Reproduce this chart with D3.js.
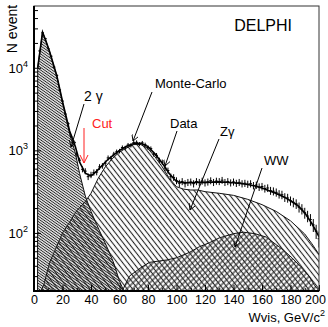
<!DOCTYPE html>
<html>
<head>
<meta charset="utf-8">
<script src="https://cdn.jsdelivr.net/npm/d3@7"></script>
<style>
  body { margin: 0; background: #fff; }
  text { font-family: "Liberation Sans", Arial, sans-serif; }
</style>
</head>
<body>
<div id="chart"></div>
<script>
// ### data (Wvis in GeV, number of events)
const ggX = [2.5, 2.6, 6, 8, 11, 16, 20, 25, 29, 32, 36, 40, 44, 48, 52, 56, 60, 63];
const ggN = [20, 10000, 27000, 21900, 15500, 7900, 3800, 1580, 930, 525, 280, 182, 126, 89, 63, 43, 26, 20];

const zgX = [5, 7, 11, 15, 20, 25, 30, 36, 40, 45, 50, 55, 60, 65, 70, 75, 80, 85, 90, 95,
             100, 105, 110, 115, 120, 130, 140, 150, 160, 170, 180, 190, 195, 200];
const zgN = [20, 24, 44, 63, 100, 135, 186, 240, 302, 457, 630, 794, 955, 1070, 1175, 1175, 1050, 830, 630, 457,
             363, 339, 331, 331, 316, 302, 285, 255, 220, 182, 140, 97, 74, 55];

const wwX = [62, 67, 75, 81, 93, 100, 109, 116, 123, 130, 140, 147, 155, 163, 170, 175, 181, 187, 193, 197, 200];
const wwN = [20, 30, 38, 44, 47, 50, 58, 68, 76, 87, 98, 102, 98, 89, 72, 62, 50, 39, 30, 23, 20];

const mcX = [2.6, 6, 8, 11, 16, 20, 25, 29, 32, 36, 40, 44, 48, 52, 56, 60, 65, 70, 75, 80, 85, 90, 95,
             100, 105, 110, 115, 120, 125, 130, 135, 140, 145, 150, 155, 160, 165, 170, 175, 180, 185, 190, 195, 200];
const mcN = [10000, 27000, 22000, 15600, 8000, 3900, 1720, 1110, 720, 530, 490, 560, 660, 780, 880, 1000, 1120, 1210, 1220, 1110, 900, 700, 520,
             420, 405, 405, 410, 410, 412, 415, 410, 405, 398, 385, 370, 350, 325, 300, 275, 245, 215, 175, 130, 90];

const dataX = d3.range(4, 201, 2);
const dataN = [16000, 26500, 22500, 17000, 13800, 10200, 8100, 5400, 3950, 2750, 2100, 1480, 1260, 900, 760, 590, 560,
               480, 505, 540, 545, 630, 650, 700, 810, 800, 900, 960, 980, 1080, 1070, 1160, 1150, 1240, 1250, 1190,
               1230, 1170, 1080, 1050, 900, 870, 760, 720, 610, 570, 480, 470, 430, 400, 420, 395, 410, 415, 395, 420,
               410, 425, 405, 415, 430, 410, 425, 420, 435, 410, 420, 405, 415, 400, 410, 395, 400, 390, 395, 375, 380,
               360, 365, 345, 350, 325, 320, 310, 295, 290, 270, 265, 245, 235, 225, 205, 195, 175, 160, 145, 125, 105, 85];

const xTicks = d3.range(0, 201, 20);
const yMajor = [100, 1000, 10000];
const yExp = ["2", "3", "4"];

// ### layout
const W = 328, H = 327;
const m = { left: 34, top: 6, right: 9, bottom: 36 };
const x = d3.scaleLinear().domain([0, 200]).range([m.left, W - m.right]);
const y = d3.scaleLog().domain([19.8, 56000]).range([H - m.bottom, m.top]);
const y0 = H - m.bottom;

const svg = d3.select("#chart").append("svg")
  .attr("width", W).attr("height", H)
  .style("display", "block");

const defs = svg.append("defs");
defs.append("clipPath").attr("id", "plot")
  .append("rect")
  .attr("x", m.left).attr("y", m.top)
  .attr("width", W - m.left - m.right).attr("height", y0 - m.top);

function hatch(id, angle, gap, w) {
  defs.append("pattern")
    .attr("id", id)
    .attr("patternUnits", "userSpaceOnUse")
    .attr("width", gap).attr("height", gap)
    .attr("patternTransform", `rotate(${angle})`)
    .append("line")
    .attr("x1", -1).attr("x2", gap + 1)
    .attr("y1", gap / 2).attr("y2", gap / 2)
    .attr("stroke", "#222").attr("stroke-width", w);
}
hatch("hgg", 35, 2.2, 1);
hatch("hzg", 52, 4.2, 1.1);
hatch("hww", -45, 4, 1.1);

defs.append("marker")
  .attr("id", "vee")
  .attr("viewBox", "0 0 8 8")
  .attr("refX", 7).attr("refY", 4)
  .attr("markerWidth", 7).attr("markerHeight", 7)
  .attr("markerUnits", "userSpaceOnUse")
  .attr("orient", "auto")
  .append("path")
  .attr("d", "M0,0L7,4L0,8")
  .attr("fill", "none").attr("stroke", "#000").attr("stroke-width", 1);

const plot = svg.append("g").attr("clip-path", "url(#plot)");

const area = d3.area()
  .x(d => x(d[0]))
  .y0(y0)
  .y1(d => y(d[1]));
const line = d3.line()
  .x(d => x(d[0]))
  .y(d => y(d[1]));

// overlaid (not stacked) simulated components
[[zgX, zgN, "hzg"], [wwX, wwN, "hww"], [ggX, ggN, "hgg"]].forEach(([xs, ns, pat]) => {
  const pts = d3.zip(xs, ns);
  plot.append("path")
    .datum(pts)
    .attr("d", area)
    .attr("fill", `url(#${pat})`);
  plot.append("path")
    .datum(pts)
    .attr("d", line)
    .attr("fill", "none")
    .attr("stroke", "#111")
    .attr("stroke-width", 1);
});

// total Monte-Carlo
plot.append("path")
  .datum(d3.zip(mcX, mcN))
  .attr("d", line)
  .attr("fill", "none")
  .attr("stroke", "#000")
  .attr("stroke-width", 1.6);

// data points with error bars
const pts = plot.append("g").attr("stroke", "#000").attr("stroke-width", 1);
pts.selectAll(".h")
  .data(d3.zip(dataX, dataN))
  .join("line")
  .attr("x1", d => x(d[0] - 1)).attr("x2", d => x(d[0] + 1))
  .attr("y1", d => y(d[1])).attr("y2", d => y(d[1]));
pts.selectAll(".v")
  .data(d3.zip(dataX, dataN))
  .join("line")
  .attr("x1", d => x(d[0])).attr("x2", d => x(d[0]))
  .attr("y1", d => y(d[1] + 2 * Math.sqrt(d[1])))
  .attr("y2", d => y(d[1] - 2 * Math.sqrt(d[1])));

// ### axes
const minor = [];
[10, 100, 1000, 10000].forEach(b => d3.range(2, 10).forEach(k => {
  const v = b * k;
  if (v >= 20 && v <= 56000) minor.push(v);
}));

const gy = svg.append("g").attr("transform", `translate(${m.left},0)`);
gy.call(d3.axisLeft(y).tickValues(minor).tickSizeInner(-4).tickSizeOuter(0).tickFormat(""));
gy.call(g => g.select(".domain").remove());
const gy2 = svg.append("g").attr("transform", `translate(${m.left},0)`);
gy2.call(d3.axisLeft(y).tickValues(yMajor).tickSizeInner(-7).tickSizeOuter(0).tickFormat(""));
gy2.call(g => g.select(".domain").remove());

const yl = svg.append("g").selectAll("text")
  .data(yMajor)
  .join("text")
  .attr("x", m.left - 6)
  .attr("y", d => y(d) + 5)
  .attr("text-anchor", "end")
  .attr("font-size", 13);
yl.append("tspan").text("10");
yl.append("tspan").attr("dy", -6).attr("font-size", 9).text((d, i) => yExp[i]);

const gx = svg.append("g").attr("transform", `translate(0,${y0})`);
gx.call(d3.axisBottom(x).tickValues(d3.range(10, 200, 20)).tickSizeInner(-3).tickSizeOuter(0).tickFormat(""));
gx.call(g => g.select(".domain").remove());
const gx2 = svg.append("g").attr("transform", `translate(0,${y0})`);
gx2.call(d3.axisBottom(x).tickValues(xTicks).tickSizeInner(-6).tickSizeOuter(0).tickPadding(4));
gx2.call(g => g.select(".domain").remove());
gx2.selectAll("text")
  .attr("font-size", 12.5)
  .attr("font-family", "Liberation Sans, Arial, sans-serif")
  .attr("fill", "#000")
  .attr("dx", d => d === 200 ? -4 : 0);

// frame
svg.append("rect")
  .attr("x", m.left).attr("y", m.top)
  .attr("width", W - m.left - m.right).attr("height", y0 - m.top)
  .attr("fill", "none").attr("stroke", "#333").attr("stroke-width", 1);
svg.append("path")
  .attr("d", `M${m.left},${m.top}V${y0}H${W - m.right}`)
  .attr("fill", "none").attr("stroke", "#000").attr("stroke-width", 2);

// ### titles and annotations
svg.append("text")
  .attr("transform", `translate(17,29) rotate(-90)`)
  .attr("text-anchor", "middle")
  .attr("font-size", 14)
  .text("N event");

const xt = svg.append("text")
  .attr("x", 325).attr("y", 322)
  .attr("text-anchor", "end")
  .attr("font-size", 13);
xt.append("tspan").text("Wvis, GeV/c");
xt.append("tspan").attr("dy", -6).attr("font-size", 9).text("2");

svg.append("text")
  .attr("x", 292).attr("y", 31)
  .attr("text-anchor", "end")
  .attr("font-size", 16)
  .text("DELPHI");

const notes = [
  { t: "2 γ", tx: 84, ty: 101, x1: 84, y1: 104, x2: 71, y2: 147, fs: 14 },
  { t: "Monte-Carlo", tx: 155, ty: 88, x1: 152, y1: 92, x2: 133, y2: 141, fs: 13 },
  { t: "Data", tx: 170, ty: 128, x1: 177, y1: 131, x2: 165, y2: 166, fs: 13 },
  { t: "Zγ", tx: 220, ty: 136, x1: 219, y1: 139, x2: 190, y2: 210, fs: 13 },
  { t: "WW", tx: 264, ty: 165, x1: 262, y1: 168, x2: 235, y2: 247, fs: 13 }
];
const ann = svg.append("g");
ann.selectAll("line")
  .data(notes)
  .join("line")
  .attr("x1", d => d.x1).attr("y1", d => d.y1)
  .attr("x2", d => d.x2).attr("y2", d => d.y2)
  .attr("stroke", "#000").attr("stroke-width", 1)
  .attr("marker-end", "url(#vee)");
ann.selectAll("text")
  .data(notes)
  .join("text")
  .attr("x", d => d.tx).attr("y", d => d.ty)
  .attr("font-size", d => d.fs)
  .text(d => d.t);

// cut arrow
svg.append("line")
  .attr("x1", 84).attr("x2", 84).attr("y1", 128).attr("y2", 163)
  .attr("stroke", "#ff2020").attr("stroke-width", 1);
svg.append("path")
  .attr("d", "M80,155L84,163L88,155")
  .attr("fill", "none").attr("stroke", "#ff2020").attr("stroke-width", 1);
svg.append("text")
  .attr("x", 92).attr("y", 128)
  .attr("font-size", 13)
  .attr("fill", "#ff2020")
  .text("Cut");
</script>
</body>
</html>
